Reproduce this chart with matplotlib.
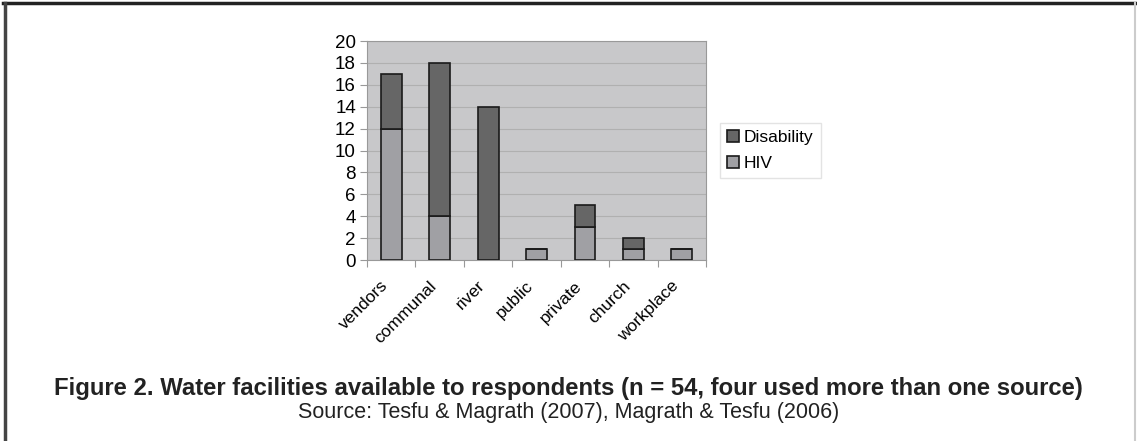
#! /usr/bin/env python3

import matplotlib
matplotlib.use("Agg")
import matplotlib.pyplot as plt
import matplotlib.transforms as mtransforms
import numpy as np

plt.rcParams['font.family'] = ['Liberation Sans', 'DejaVu Sans']

labels = ["vendors", "communal", "river", "public", "private", "church", "workplace"]
hiv        = [12, 4, 0, 1, 3, 1, 1]
disability = [5, 14, 14, 0, 2, 1, 0]

x = np.arange(len(labels))
width = 0.43

fig = plt.figure(figsize=(11.37, 4.41), dpi=100)
ax = fig.add_axes([0.3228, 0.4104, 0.2982, 0.4966])
ax.set_facecolor('#c8c8ca')

ax.bar(x, hiv, width, color='#a0a0a4', edgecolor='#1a1a1a', linewidth=1.2, label='HIV', zorder=3)
ax.bar(x, disability, width, bottom=hiv, color='#666666', edgecolor='#1a1a1a', linewidth=1.2,
       label='Disability', zorder=3)

ax.set_xlim(-0.5, len(labels) - 0.5)
ax.set_ylim(0, 20)
ax.set_yticks(np.arange(0, 21, 2))
ax.yaxis.grid(True, color='#b0b0b0', linewidth=0.8, zorder=0)

# category ticks sit between the bars, labels centred under each bar
ax.set_xticks(np.arange(-0.5, len(labels) + 0.5, 1))
ax.set_xticklabels([])
ax.set_xticks(x, minor=True)
ax.set_xticklabels(labels, minor=True, rotation=45, ha='right', rotation_mode='anchor', fontsize=12.5)
ax.tick_params(axis='x', which='minor', length=0, pad=13)
ax.tick_params(axis='x', which='major', length=5, color='#999999')
ax.tick_params(axis='y', length=5, color='#999999', labelsize=13.5, pad=3)

# nudge the slanted labels a little to the left
shift = mtransforms.ScaledTranslation(-0.11, 0, fig.dpi_scale_trans)
for lbl in ax.get_xticklabels(minor=True):
    lbl.set_transform(lbl.get_transform() + shift)

for side in ['top', 'right', 'left', 'bottom']:
    ax.spines[side].set_color('#999999')

handles, leg_labels = ax.get_legend_handles_labels()
leg = ax.legend(handles[::-1], leg_labels[::-1], loc='center left', bbox_to_anchor=(1.04, 0.5),
                borderaxespad=0, fontsize=12.5, frameon=True, fancybox=False, handlelength=0.7,
                handleheight=0.7, handletextpad=0.3, borderpad=0.4, labelspacing=0.6)
leg.get_frame().set_edgecolor('#dddddd')
leg.get_frame().set_linewidth(1)

fig.text(0.5, 0.119, "Figure 2. Water facilities available to respondents (n = 54, four used more than one source)",
         ha='center', va='center', fontsize=17.2, fontweight='bold', color='#222222')
fig.text(0.5, 0.064, "Source: Tesfu & Magrath (2007), Magrath & Tesfu (2006)",
         ha='center', va='center', fontsize=15.5, color='#222222')

# page frame
fig.add_artist(plt.Line2D([0.003, 1.0], [0.993, 0.993], color='#222222', linewidth=2.5))
fig.add_artist(plt.Line2D([0.004, 0.004], [0.0, 0.993], color='#444444', linewidth=2.5))
fig.add_artist(plt.Line2D([0.9985, 0.9985], [0.0, 0.993], color='#cccccc', linewidth=1.5))

plt.savefig("out.png", dpi=100)
